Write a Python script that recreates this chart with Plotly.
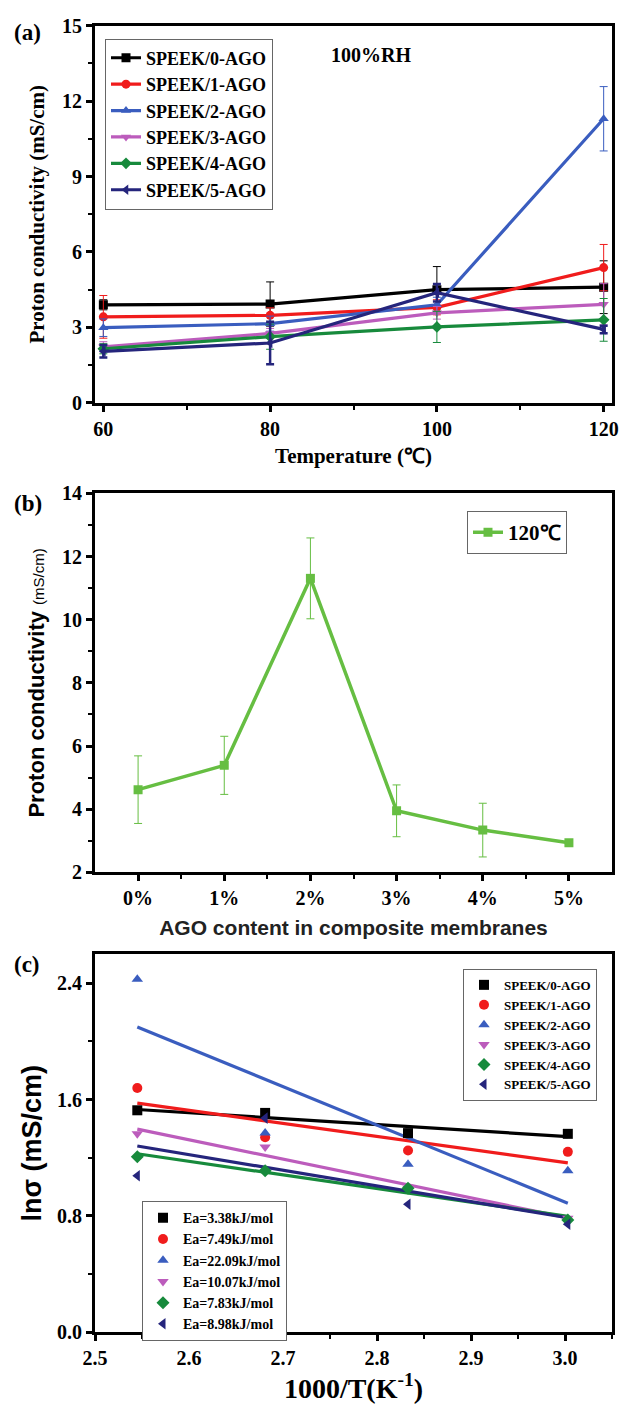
import numpy as np
import plotly.graph_objects as go

# ---------------- data ----------------
temps = [60, 80, 100, 120]
series_names = ["SPEEK/0-AGO", "SPEEK/1-AGO", "SPEEK/2-AGO",
                "SPEEK/3-AGO", "SPEEK/4-AGO", "SPEEK/5-AGO"]
cond_0 = [3.90, 3.93, 4.50, 4.60]
cond_1 = [3.42, 3.48, 3.80, 5.38]
cond_2 = [2.99, 3.15, 3.90, 11.30]
cond_3 = [2.23, 2.76, 3.58, 3.92]
cond_4 = [2.15, 2.63, 3.02, 3.30]
cond_5 = [2.05, 2.38, 4.38, 2.92]
err_0 = [0.20, 0.88, 0.92, 1.05]
err_1 = [0.85, 0.30, 0.30, 0.92]
err_2 = [0.35, 0.30, 0.30, 1.28]
err_3 = [0.20, 0.20, 0.25, 0.82]
err_4 = [0.20, 0.50, 0.62, 0.85]
err_5 = [0.25, 0.85, 0.35, 0.15]

ago_content = ["0%", "1%", "2%", "3%", "4%", "5%"]
cond_120 = [4.62, 5.39, 11.31, 3.95, 3.34, 2.94]
err_120 = [1.07, 0.92, 1.28, 0.82, 0.85, 0.05]

inv_T = [2.545, 2.681, 2.833, 3.003]
ln_0 = [1.526, 1.508, 1.369, 1.364]
ln_1 = [1.679, 1.340, 1.249, 1.240]
ln_2 = [2.427, 1.369, 1.155, 1.110]
ln_3 = [1.364, 1.274, 0.990, 0.783]
ln_4 = [1.207, 1.110, 0.990, 0.772]
ln_5 = [1.076, 1.472, 0.880, 0.743]
ea_labels = ["Ea=3.38kJ/mol", "Ea=7.49kJ/mol", "Ea=22.09kJ/mol",
             "Ea=10.07kJ/mol", "Ea=7.83kJ/mol", "Ea=8.98kJ/mol"]

# ---------------- styles ----------------
colors = ["#000000", "#F01C1C", "#3A5DBF", "#BC5CBC", "#178A3C", "#25257C"]
symbols = ["square", "circle", "triangle-up", "triangle-down", "diamond", "triangle-left"]
green_b = "#66BE42"

SERIF = "Liberation Serif"
SANS = "Liberation Sans"

conds = [cond_0, cond_1, cond_2, cond_3, cond_4, cond_5]
errs = [err_0, err_1, err_2, err_3, err_4, err_5]
lns = [ln_0, ln_1, ln_2, ln_3, ln_4, ln_5]

fig = go.Figure()

# panel (a)
for i, name in enumerate(series_names):
    fig.add_trace(go.Scatter(
        x=temps, y=conds[i], name=name, mode="lines+markers",
        line=dict(color=colors[i], width=3.2),
        marker=dict(symbol=symbols[i], size=9, color=colors[i]),
        error_y=dict(type="data", array=errs[i], color=colors[i],
                     thickness=2.5 if i == 5 else 1, width=4),
        xaxis="x", yaxis="y", legend="legend"))

# panel (b)
xb = list(range(len(ago_content)))
fig.add_trace(go.Scatter(
    x=xb, y=cond_120, name="120℃", mode="lines+markers",
    line=dict(color=green_b, width=3.5),
    marker=dict(symbol="square", size=9, color=green_b),
    error_y=dict(type="data", array=err_120, color=green_b, thickness=1, width=4),
    xaxis="x2", yaxis="y2", legend="legend2"))

# panel (c) fit lines (least squares on the plotted points)
for i in range(6):
    slope, icpt = np.polyfit(inv_T, lns[i], 1)
    xf = [min(inv_T), max(inv_T)]
    fig.add_trace(go.Scatter(
        x=xf, y=[slope * v + icpt for v in xf], mode="lines",
        line=dict(color=colors[i], width=3.2), showlegend=False,
        hoverinfo="skip", xaxis="x3", yaxis="y3"))

# panel (c) points
for i, name in enumerate(series_names):
    fig.add_trace(go.Scatter(
        x=inv_T, y=lns[i], name=name, mode="markers",
        marker=dict(symbol=symbols[i], size=10, color=colors[i]),
        xaxis="x3", yaxis="y3", legend="legend3"))

# panel (c) second legend (Ea values)
for i, lab in enumerate(ea_labels):
    fig.add_trace(go.Scatter(
        x=[None], y=[None], name=lab, mode="markers",
        marker=dict(symbol=symbols[i], size=10, color=colors[i]),
        xaxis="x3", yaxis="y3", legend="legend4"))

# ---------------- layout ----------------
H = 1417
def dom(top_px, bot_px):
    return [1 - bot_px / H, 1 - top_px / H]

tickfont = dict(family=SERIF, size=20, color="black", weight="bold")

def ax(**kw):
    d = dict(showline=True, linecolor="black", linewidth=3, mirror=True,
             ticks="outside", ticklen=6, tickwidth=2.5, tickcolor="black",
             showgrid=False, zeroline=False, tickfont=tickfont)
    d.update(kw)
    return d

minor = lambda dt: dict(ticks="outside", ticklen=4, tickwidth=2,
                        tickcolor="black", dtick=dt, showgrid=False)

fig.update_layout(
    width=632, height=H,
    margin=dict(l=95, r=20, t=0, b=0),
    paper_bgcolor="white", plot_bgcolor="white",
    xaxis=ax(domain=[0, 1], anchor="y", range=[59, 121], tick0=60, dtick=20,
             minor=dict(minor(10), tick0=60),
             title=dict(text="Temperature (℃)", standoff=10,
                        font=dict(family=SERIF, size=21, color="black", weight="bold"))),
    yaxis=ax(domain=dom(15, 398), anchor="x", range=[0, 15], tick0=0, dtick=3,
             minor=minor(1.5),
             title=dict(text="Proton conductivity (mS/cm)", standoff=12,
                        font=dict(family=SERIF, size=21, color="black", weight="bold"))),
    xaxis2=ax(domain=[0, 1], anchor="y2", range=[-0.5, 5.5],
              tickmode="array", tickvals=xb, ticktext=ago_content,
              minor=dict(ticks="outside", ticklen=4, tickwidth=2, tickcolor="black",
                         tickvals=[v + 0.5 for v in xb[:-1]], showgrid=False),
              title=dict(text="AGO content in composite membranes", standoff=12,
                         font=dict(family=SANS, size=21, color="#222", weight="bold"))),
    yaxis2=ax(domain=dom(490, 875), anchor="x2", range=[2, 14], tick0=2, dtick=2,
              minor=minor(1),
              title=dict(text="Proton conductivity <span style='font-size:15px;font-weight:normal'>(mS/cm)</span>",
                         standoff=12,
                         font=dict(family=SANS, size=22, color="black", weight="bold"))),
    xaxis3=ax(domain=[0, 1], anchor="y3", range=[2.5, 3.05], tick0=2.5, dtick=0.1,
              tickformat=".1f", minor=minor(0.05),
              title=dict(text="1000/T(K<sup>-1</sup>)", standoff=8,
                         font=dict(family=SERIF, size=28, color="black", weight="bold"))),
    yaxis3=ax(domain=dom(958, 1342), anchor="x3", range=[0, 2.6], tick0=0, dtick=0.8,
              tickformat=".1f", minor=minor(0.4),
              title=dict(text="lnσ (mS/cm)", standoff=8,
                         font=dict(family=SANS, size=27, color="black", weight="bold"))),
    legend=dict(x=(105 - 95) / 517, y=1 - 28 / H, xanchor="left", yanchor="top",
                bgcolor="white", bordercolor="#666", borderwidth=1,
                font=dict(family=SERIF, size=18, color="black", weight="bold"),
                tracegroupgap=0, itemwidth=30),
    legend2=dict(x=(467 - 95) / 517, y=1 - 508 / H, xanchor="left", yanchor="top",
                 bgcolor="white", bordercolor="#666", borderwidth=1,
                 font=dict(family=SERIF, size=21, color="black", weight="bold")),
    legend3=dict(x=(463 - 95) / 517, y=1 - 973 / H, xanchor="left", yanchor="top",
                 bgcolor="white", bordercolor="#666", borderwidth=1,
                 font=dict(family=SERIF, size=13, color="black", weight="bold")),
    legend4=dict(x=(142 - 95) / 517, y=1 - 1209 / H, xanchor="left", yanchor="top",
                 bgcolor="white", bordercolor="#666", borderwidth=1,
                 font=dict(family=SERIF, size=14, color="black", weight="bold")),
    annotations=[
        dict(text="(a)", x=(12 - 95) / 517, y=1 - 22 / H, xref="paper", yref="paper",
             xanchor="left", yanchor="middle", showarrow=False,
             font=dict(family=SERIF, size=23, color="black", weight="bold")),
        dict(text="(b)", x=(12 - 95) / 517, y=1 - 500 / H, xref="paper", yref="paper",
             xanchor="left", yanchor="middle", showarrow=False,
             font=dict(family=SERIF, size=23, color="black", weight="bold")),
        dict(text="(c)", x=(12 - 95) / 517, y=1 - 969 / H, xref="paper", yref="paper",
             xanchor="left", yanchor="middle", showarrow=False,
             font=dict(family=SERIF, size=23, color="black", weight="bold")),
        dict(text="100%RH", x=(371 - 95) / 517, y=1 - 45 / H, xref="paper", yref="paper",
             xanchor="center", yanchor="middle", showarrow=False,
             font=dict(family=SERIF, size=20, color="black", weight="bold")),
    ],
)

fig.write_html("out.html")
